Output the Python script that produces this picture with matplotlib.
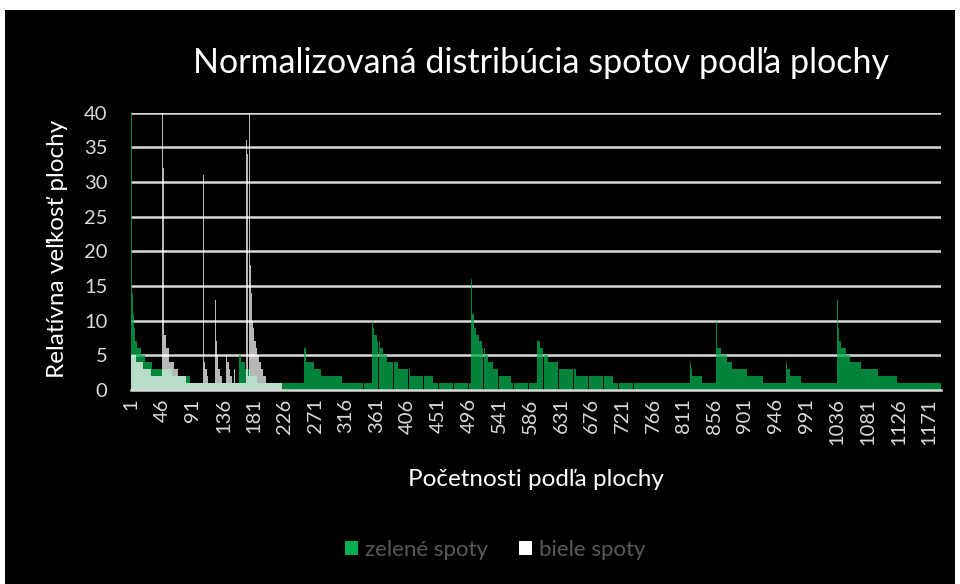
import numpy as np
import matplotlib
matplotlib.use("Agg")
import matplotlib.pyplot as plt
from matplotlib.patches import Rectangle, Patch

plt.rcParams['font.family'] = ['Lato', 'DejaVu Sans']

# ---- data (run-length encoded: value, number of consecutive categories) ----
n_categories = 1188

green_values = [48, 26, 14, 11, 9, 7, 6, 5, 4, 3, 2, 1, 5, 4, 3, 2, 1,
                8, 6, 4, 3, 2, 1,
                13, 10, 9, 8, 7, 6, 5, 4, 3, 2, 1,
                16, 11, 9, 8, 7, 6, 5, 4, 3, 2, 1,
                8, 7, 6, 5, 4, 3, 2, 1,
                4, 3, 2, 1,
                10, 6, 5, 4, 3, 2, 1,
                5, 4, 3, 2, 1,
                13, 9, 7, 6, 5, 4, 3, 2, 1]
green_counts = [1, 1, 1, 1, 2, 3, 5, 6, 11, 29, 26, 72, 3, 6, 8, 10, 68,
                1, 2, 12, 11, 30, 44,
                1, 1, 2, 4, 4, 5, 5, 17, 17, 34, 56,
                1, 3, 3, 4, 5, 4, 4, 8, 7, 19, 38,
                1, 4, 6, 6, 16, 24, 55, 113,
                1, 2, 14, 21,
                1, 7, 8, 8, 21, 24, 33,
                1, 1, 4, 17, 53,
                1, 2, 3, 6, 6, 17, 25, 27, 65]

white_values = [5, 4, 3, 2,
                48, 32, 8, 6, 4, 3, 2, 1,
                34, 31, 4, 3, 2, 1,
                13, 9, 7, 5, 4, 3, 2, 1,
                6, 5, 4, 3, 2, 1,
                3, 2, 1,
                36, 34, 2, 48, 21, 18, 14, 12, 10, 9, 8, 7, 6, 5, 4, 3, 2, 1,
                0]
white_counts = [8, 9, 13, 16,
                1, 1, 4, 3, 8, 6, 11, 25,
                1, 1, 2, 2, 2, 10,
                1, 1, 1, 1, 1, 2, 3, 6,
                1, 1, 2, 2, 3, 3,
                1, 1, 16,
                1, 1, 2, 1, 1, 1, 1, 1, 1, 1, 1, 2, 2, 2, 3, 3, 5, 24,
                966]

tick_step = 45
series_names = ["zelené spoty", "biele spoty"]

green = np.repeat(green_values, green_counts)
white = np.repeat(white_values, white_counts)
cats = np.arange(1, n_categories + 1)

# ---- figure ----
W, H = 960, 584
fig = plt.figure(figsize=(W / 100, H / 100), dpi=100, facecolor="white")
fig.patches.append(Rectangle((5 / W, 0), (W - 10) / W, (H - 10) / H,
                             transform=fig.transFigure, facecolor="black",
                             edgecolor="none", zorder=-10))

ax = fig.add_axes([131 / W, (H - 390) / H, 810 / W, (390 - 112.5) / H])
ax.set_facecolor("black")
ax.patch.set_alpha(0)

grid_col = "#D9D9D9"
for v in range(5, 41, 5):
    ax.axhline(v, color=grid_col, lw=1.8, zorder=1)

ax.bar(cats, green, width=1.0, color="#00B050", alpha=0.75, linewidth=0, zorder=2)
ax.bar(cats, white, width=1.0, color="white", alpha=0.72, linewidth=0, zorder=3)

ax.set_xlim(0.5, n_categories + 0.5)
ax.set_ylim(0, 40)
for s in ["top", "right", "left"]:
    ax.spines[s].set_visible(False)
ax.spines["bottom"].set_color(grid_col)
ax.spines["bottom"].set_linewidth(1.8)
ax.spines["bottom"].set_zorder(5)

ax.set_yticks(range(0, 41, 5))
ax.set_xticks(np.arange(1, n_categories + 1, tick_step))
ax.set_xticklabels([str(t) for t in np.arange(1, n_categories + 1, tick_step)],
                   rotation=90, va="top", ha="center")
ax.tick_params(axis="y", length=0, pad=17, labelsize=14.5, labelcolor="#D9D9D9")
ax.tick_params(axis="x", length=0, pad=6, labelsize=14.5, labelcolor="#D9D9D9")

fig.text(541 / W, 1 - 63 / H, "Normalizovaná distribúcia spotov podľa plochy",
         color="white", fontsize=24.5, ha="center", va="center")
fig.text(57 / W, 1 - 249 / H, "Relatívna veľkosť plochy", color="white",
         fontsize=17.5, rotation=90, ha="center", va="center")
fig.text(536 / W, 1 - 480 / H, "Početnosti podľa plochy", color="white",
         fontsize=17.5, ha="center", va="center")

handles = [Patch(facecolor="#00B050", edgecolor="none"),
           Patch(facecolor="white", edgecolor="none")]
leg = fig.legend(handles, series_names, loc="center", bbox_to_anchor=(495 / W, 1 - 550 / H),
                 ncol=2, frameon=False, fontsize=16, labelcolor="#595959",
                 handlelength=0.6, handleheight=0.6, handletextpad=0.3, columnspacing=1.4)

fig.savefig("out.png", dpi=100, facecolor="white")
